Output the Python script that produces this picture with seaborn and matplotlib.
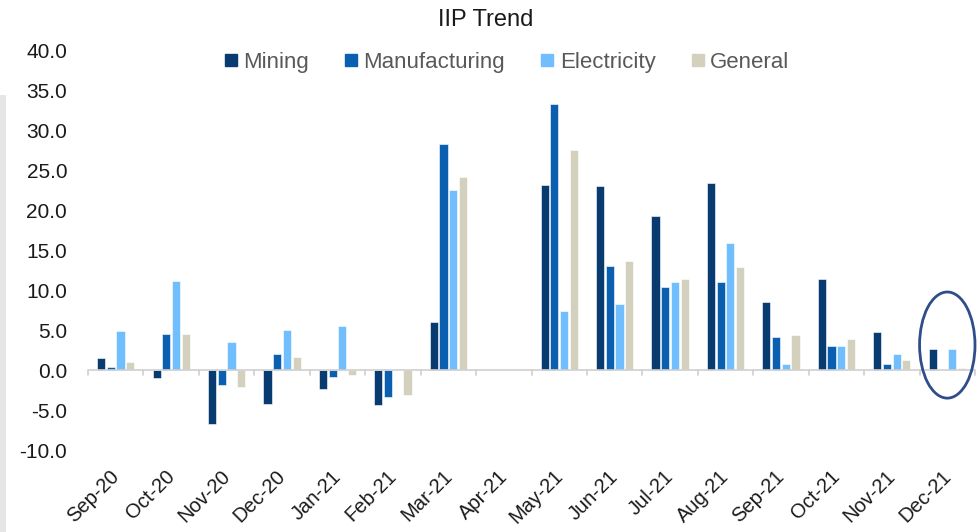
import matplotlib
matplotlib.use("Agg")
import matplotlib.pyplot as plt
import matplotlib.transforms as mtransforms
from matplotlib.patches import Ellipse, Rectangle
from matplotlib.lines import Line2D
import seaborn as sns
import numpy as np
import pandas as pd

months = ["Sep-20", "Oct-20", "Nov-20", "Dec-20", "Jan-21", "Feb-21", "Mar-21", "Apr-21",
          "May-21", "Jun-21", "Jul-21", "Aug-21", "Sep-21", "Oct-21", "Nov-21", "Dec-21"]
mining = [1.5, -1.0, -6.7, -4.2, -2.4, -4.3, 6.1, np.nan, 23.2, 23.1, 19.3, 23.5, 8.6, 11.4, 4.8, 2.6]
manufacturing = [0.4, 4.5, -1.9, 2.0, -0.9, -3.4, 28.4, np.nan, 33.4, 13.1, 10.4, 11.0, 4.2, 3.0, 0.8, np.nan]
electricity = [4.9, 11.2, 3.5, 5.1, 5.5, np.nan, 22.6, np.nan, 7.4, 8.3, 11.0, 15.9, 0.8, 3.0, 2.0, 2.7]
general = [1.0, 4.5, -2.1, 1.6, -0.6, -3.1, 24.2, np.nan, 27.6, 13.7, 11.4, 12.9, 4.4, 3.9, 1.3, 0.3]
series_names = ["Mining", "Manufacturing", "Electricity", "General"]
colors = ["#083b6f", "#0a5fb0", "#70befe", "#d3d0be"]
yticks = [-10, -5, 0, 5, 10, 15, 20, 25, 30, 35, 40]

df = pd.DataFrame({"Month": months, "Mining": mining, "Manufacturing": manufacturing,
                   "Electricity": electricity, "General": general})
long = df.melt(id_vars="Month", var_name="Series", value_name="Value")

sns.set_theme(style="white")
plt.rcParams["font.family"] = ["Liberation Sans", "DejaVu Sans"]

fig = plt.figure(figsize=(9.8, 5.32), dpi=100)
fig.patches.append(Rectangle((0, 0), 6 / 980, (532 - 95) / 532, transform=fig.transFigure,
                             facecolor="#e6e6e6", edgecolor="none", zorder=0))
ax = fig.add_axes([88 / 980, 82 / 532, 887 / 980, 399 / 532])

sns.barplot(data=long, x="Month", y="Value", hue="Series", order=months,
            hue_order=series_names, palette=colors, width=0.7, gap=0.16, saturation=1,
            errorbar=None, edgecolor="white", linewidth=0.4, ax=ax, legend=False)

ax.set_xlim(-0.5, len(months) - 0.5)
ax.set_ylim(-10, 40)
ax.set_yticks(yticks)
ax.set_yticklabels([f"{v:.1f}" for v in yticks], fontsize=15, color="#1a1a1a")
ax.tick_params(axis="y", length=0, pad=15)
ax.set_xticks(range(len(months)))
ax.set_xticklabels(months, rotation=45, ha="right", rotation_mode="anchor",
                   fontsize=14.5, color="#1a1a1a")
ax.tick_params(axis="x", length=0, pad=12)
shift = mtransforms.ScaledTranslation(-6 / 100, 0, fig.dpi_scale_trans)
for lab in ax.get_xticklabels():
    lab.set_transform(lab.get_transform() + shift)
ax.set_xlabel("")
ax.set_ylabel("")
for s in ax.spines.values():
    s.set_visible(False)

# zero axis line with category tick marks
ax.axhline(0, color="#d0d0d0", lw=1.2, zorder=1)
for b in np.arange(-0.5, len(months), 1.0):
    ax.plot([b, b], [0, -0.55], color="#d0d0d0", lw=1.2, zorder=1, clip_on=False)

# highlight ellipse around Dec-21
ax.add_patch(Ellipse((15, 3.15), 1.0, 13.3, fill=False, edgecolor="#2e4d8a", lw=2,
                     clip_on=False, zorder=5))

fig.text(0.496, 0.962, "IIP Trend", ha="center", va="center", fontsize=17, color="#1a1a1a")

handles = [Line2D([0], [0], marker="s", linestyle="none", markersize=9,
                  markerfacecolor=c, markeredgecolor=c) for c in colors]
fig.legend(handles, series_names, loc="center", bbox_to_anchor=(0.516, 0.882), ncol=4,
           frameon=False, fontsize=16, handletextpad=0.15, columnspacing=1.5,
           labelcolor="#595959", handlelength=0.8)

fig.savefig("out.png", dpi=100)
